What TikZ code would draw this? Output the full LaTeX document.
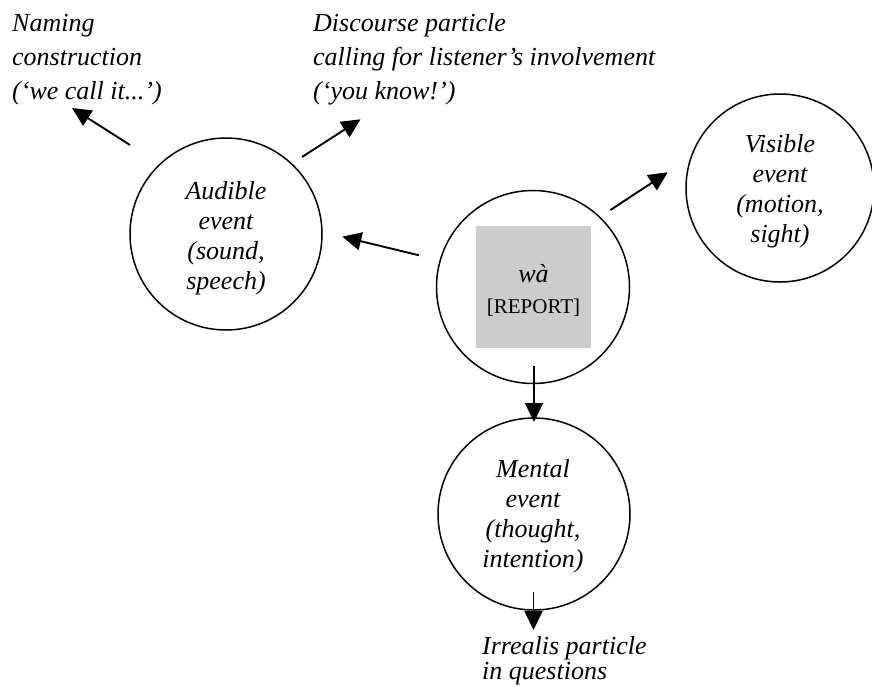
\documentclass[tikz,border=0pt]{standalone}
\usepackage{fontspec}
\setmainfont{Liberation Serif}
\usetikzlibrary{arrows.meta,calc}
\definecolor{boxgray}{HTML}{CCCCCC}
\begin{document}
\begin{tikzpicture}[x=1pt,y=-1pt,
  event/.style={circle,draw,line width=1.5pt,minimum size=192pt,inner sep=0pt},
  ctext/.style={inner sep=0pt,anchor=base,font=\itshape\fontsize{26}{30}\selectfont},
  lbl/.style={inner sep=0pt,anchor=base west,font=\itshape\fontsize{26}{34.3}\selectfont},
  arr/.style={line width=1.9pt,-{Triangle[length=19pt,width=18pt]}},
]
\useasboundingbox (0,0) rectangle (872,686);

% circles
\node[event] (aud) at (226,234) {};
\node[event,minimum size=193pt] (cen) at (533,287) {};
\node[event,minimum size=188pt] (vis) at (780,188) {};
\node[event] (men) at (534,514) {};

% circle texts
\node[ctext] (audT) at ($(aud)+(0,-35)$) {\begin{tabular}[t]{@{}c@{}}Audible\\event\\(sound,\\speech)\end{tabular}};
\node[ctext] (visT) at ($(vis)+(0,-36)$) {\begin{tabular}[t]{@{}c@{}}Visible\\event\\(motion,\\sight)\end{tabular}};
\node[ctext] (menT) at ($(men)+(-1,-37)$) {\begin{tabular}[t]{@{}c@{}}Mental\\event\\(thought,\\intention)\end{tabular}};

% central grey box
\node[fill=boxgray,minimum width=115pt,minimum height=122pt,inner sep=0pt] (box) at (533.5,287) {};
\node[ctext] (wa) at ($(box)+(0,-5)$) {wà};
\node[inner sep=0pt,anchor=base,font=\fontsize{21}{25}\selectfont] (rep) at ($(box)+(0,26)$) {[REPORT]};

% outer labels
\node[lbl] (nam) at (12,31) {\begin{tabular}[t]{@{}l@{}}Naming\\construction\\(‘we call it...’)\end{tabular}};
\node[lbl] (dis) at (313,31) {\begin{tabular}[t]{@{}l@{}}Discourse particle\\calling for listener’s involvement\\(‘you know!’)\end{tabular}};
\node[lbl,font=\itshape\fontsize{26}{25.5}\selectfont] (irr) at (482,654) {\begin{tabular}[t]{@{}l@{}}Irrealis particle\\in questions\end{tabular}};

% arrow end points
\coordinate (namTail) at (130,145);
\coordinate (namTip) at (72,108);
\coordinate (disTail) at (302,157);
\coordinate (disTip) at (360.5,119.3);
\coordinate (audTail) at (419,255.3);
\coordinate (audTip) at (342.3,236.7);
\coordinate (visTail) at (610.5,210);
\coordinate (visTip) at (667.7,172.3);
\coordinate (menTail) at (534,366);
\coordinate (menTip) at (534,422);
\coordinate (irrTail) at (533.5,592);
\coordinate (irrTip) at (533.5,630);

\draw[arr] (namTail) -- (namTip);
\draw[arr] (disTail) -- (disTip);
\draw[arr] (audTail) -- (audTip);
\draw[arr] (visTail) -- (visTip);
\draw[arr] (menTail) -- (menTip);
\draw[arr] (irrTail) -- (irrTip);
\end{tikzpicture}
\end{document}
